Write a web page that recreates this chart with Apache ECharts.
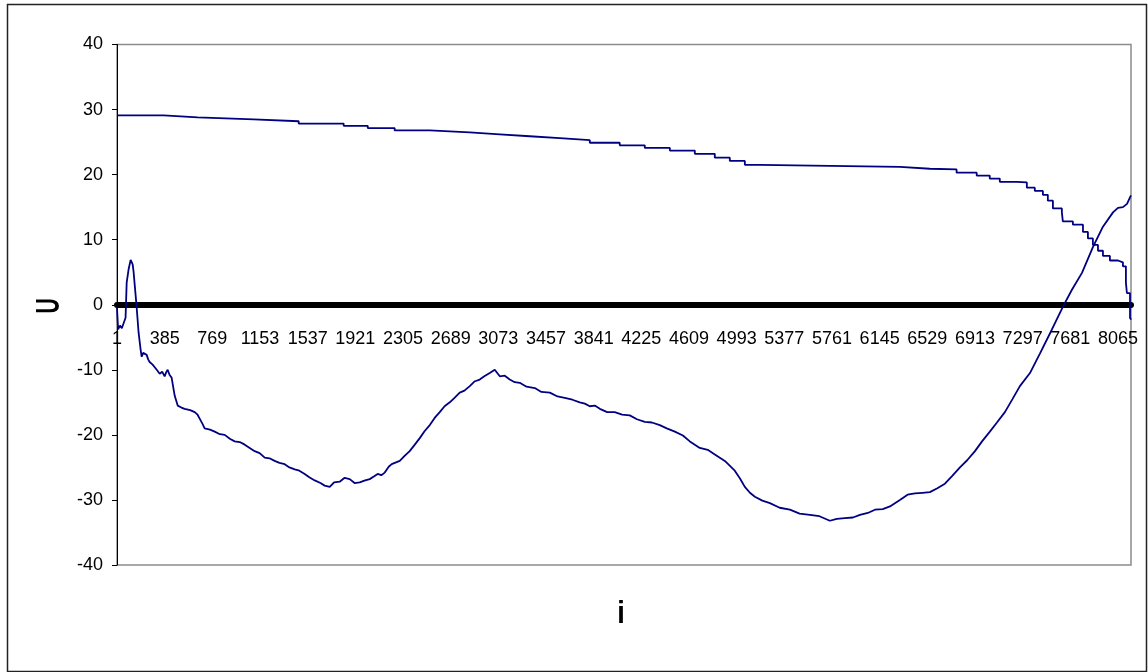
<!DOCTYPE html>
<html>
<head>
<meta charset="utf-8">
<title>U vs i</title>
<script src="https://cdn.jsdelivr.net/npm/echarts@6/dist/echarts.min.js"></script>
<style>
  html, body { margin: 0; padding: 0; background: #fff; }
  #chart { width: 1148px; height: 672px; }
</style>
</head>
<body>
<div id="chart"></div>
<script>
// Sample index i runs from 1 to 8170; axis labels every 384 samples.
const sampleCount = 8170;
const labelStep = 384;
const categories = Array.from({ length: sampleCount }, (_, k) => String(k + 1));

// Upper curve: quantised, step-wise decreasing (i, U)
const upperI = [1, 377, 651, 1102, 1465, 1827, 2021, 2238, 2521, 2843, 3085, 3326, 3568, 3810,
  4051, 4253, 4455, 4656, 4817, 4938, 5059, 5180, 6308, 6550, 6765, 6927, 7032, 7113, 7250,
  7331, 7395, 7460, 7500, 7541, 7613, 7621, 7702, 7783, 7823, 7863, 7904, 7944, 8000, 8065,
  8105, 8129, 8137, 8162, 8170];
const upperU = [29.1, 28.8, 28.5, 28.2, 27.85, 27.5, 27.15, 26.8, 26.5, 26.2, 25.9, 25.6, 25.3, 24.9,
  24.5, 24.1, 23.7, 23.2, 22.6, 22.1, 21.5, 21.2, 20.9, 20.8, 20.3, 19.85, 19.4, 18.9, 18.8,
  18.0, 17.5, 16.9, 16.0, 14.8, 14.2, 12.8, 12.3, 11.2, 10.2, 9.2, 8.3, 7.5, 6.8, 6.5,
  5.9, 3.4, 1.8, -2.0, -2.3];

// Lower curve: noisy wave (i, U)
const lowerI = [1, 10, 25, 40, 55, 70, 79, 95, 111, 119, 127, 135, 143, 159, 175, 192, 200, 212, 224, 240,
  252, 264, 276, 288, 305, 321, 345, 365, 385, 397, 409, 425, 441, 466, 490, 520, 546, 590, 627, 650, 667, 690, 707,
  750, 788, 830, 869, 910, 949, 990, 1030, 1070, 1110, 1150,
  1191, 1230, 1271, 1310, 1352, 1390, 1433, 1470, 1513, 1550, 1594, 1640, 1674, 1715, 1750, 1795, 1835, 1876, 1915, 1956, 2000, 2037, 2070, 2101, 2130, 2158, 2190, 2214,
  2279, 2320, 2359, 2400, 2440, 2480, 2521, 2560, 2601, 2640, 2682, 2720, 2762, 2800, 2843, 2880, 2923, 2960, 3004, 3044, 3085, 3125, 3165, 3205, 3246, 3300, 3367,
  3420, 3488, 3550, 3608, 3670, 3729, 3770, 3810, 3850, 3891, 3950, 4011, 4070, 4132, 4190, 4253, 4310, 4374, 4430, 4495, 4560, 4616, 4696, 4760, 4817, 4898, 4978,
  5020, 5059, 5100, 5140, 5200, 5261, 5340, 5422, 5500, 5583, 5660, 5744, 5800, 5865, 5930, 5986, 6050, 6107, 6170, 6228, 6308, 6370, 6429, 6490, 6550, 6610, 6671, 6730, 6792,
  6850, 6913, 6970, 7033, 7090, 7154, 7215, 7275, 7356, 7436, 7533, 7622, 7694, 7775, 7864, 7944, 8025, 8065, 8105,
  8138, 8162, 8170];
const lowerU = [-0.5, -3.8, -3.2, -3.6, -2.8, -2.0, 3.4, 5.5, 6.9, 7.0, 6.2, 5.0, 3.2, -0.3, -4.3, -7.0, -8.0, -7.4,
  -7.5, -7.7, -8.4, -8.8, -8.6, -9.2, -9.6, -10.0, -10.6, -10.3, -11.0, -10.4, -10.0, -10.8, -11.2, -14.0, -15.5, -15.8, -16.0, -16.2, -16.5, -16.9,
  -17.5, -18.3, -19.0, -19.2, -19.5, -19.9, -20.0, -20.6, -21.0, -21.1, -21.5, -22.0, -22.5, -22.8, -23.5, -23.6, -24.0, -24.3, -24.5, -25.0, -25.3, -25.5, -26.0, -26.5, -27.0,
  -27.4, -27.8, -28.0, -27.3, -27.2, -26.6, -26.8, -27.4, -27.3, -27.0, -26.8, -26.4, -26.0, -26.2, -25.8, -24.9, -24.5, -24.0, -23.2, -22.5, -21.5, -20.5, -19.4, -18.5,
  -17.4, -16.5, -15.6, -15.0, -14.3, -13.5, -13.2, -12.5, -11.8, -11.5, -11.0, -10.5, -10.0, -11.0, -10.9, -11.5, -11.9, -12.0, -12.6, -12.8,
  -13.4, -13.5, -14.1, -14.3, -14.6, -15.0, -15.2, -15.6, -15.5, -16.0, -16.5, -16.5, -16.9, -17.0, -17.6, -18.0, -18.1, -18.5, -19.0, -19.5, -20.1, -21.0, -22.0, -22.3, -23.0, -24.0, -25.5,
  -26.7, -28.0, -28.9, -29.5, -30.1, -30.5, -31.2, -31.5, -32.1, -32.3, -32.5, -33.2, -32.9, -32.8, -32.7, -32.3, -32.0, -31.5, -31.4, -31.0, -30.0, -29.2, -29.0, -28.9, -28.8, -28.2, -27.5, -26.3, -25.0,
  -23.9, -22.5, -21.0, -19.5, -18.1, -16.5, -14.5, -12.5, -10.5, -7.5, -3.8, -0.3, 2.3, 4.9, 8.9, 12.0, 14.2, 14.9, 15.0,
  15.5, 16.5, 16.8];

const yTicks = { min: -40, max: 40, step: 10 };

const toPairs = (xs, ys) => xs.map((x, k) => [x - 1, ys[k]]);

const sans = "'Liberation Sans', Arial, sans-serif";
const lineColor = '#000080';

// Plot box; the category axis sits on U = 0, halfway down the box.
const plotTop = 44.5, plotBottom = 107;
const plotHeight = 672 - plotTop - plotBottom;
const zeroOffset = -plotHeight * (0 - yTicks.min) / (yTicks.max - yTicks.min);

const chart = echarts.init(document.getElementById('chart'), null, { renderer: 'canvas' });
chart.setOption({
  animation: false,
  backgroundColor: '#ffffff',
  grid: {
    left: 117, right: 17, top: plotTop, bottom: plotBottom,
    outerBoundsMode: 'none',
    show: true, borderColor: '#8c8c8c', borderWidth: 1.5, backgroundColor: 'transparent'
  },
  graphic: [
    {
      type: 'rect', left: 5, top: 2, silent: true,
      shape: { width: 1139, height: 667 },
      style: { fill: 'none', stroke: '#222', lineWidth: 1.5 }
    },
    {
      // y-axis title, rotated to read bottom-to-top
      type: 'text', x: 49.5, y: 306, rotation: Math.PI / 2, scaleX: 0.62, silent: true,
      style: { text: 'U', font: 'bold 34px ' + sans, fill: '#000', align: 'center', verticalAlign: 'middle' }
    },
    {
      // x-axis title
      type: 'text', x: 621, y: 614, scaleX: 0.85, silent: true,
      style: { text: 'i', font: 'bold 32px ' + sans, fill: '#000', align: 'center', verticalAlign: 'middle' }
    }
  ],
  xAxis: {
    type: 'category',
    data: categories,
    boundaryGap: false,
    offset: zeroOffset,
    axisLine: { onZero: false, lineStyle: { color: '#000', width: 6 } },
    axisTick: { show: false },
    splitLine: { show: false },
    axisLabel: {
      interval: (idx) => idx % labelStep === 0,
      margin: 25, color: '#000', fontFamily: sans, fontSize: 18
    }
  },
  yAxis: {
    type: 'value',
    min: yTicks.min, max: yTicks.max, interval: yTicks.step,
    axisLine: { show: true, lineStyle: { color: '#000', width: 1 } },
    axisTick: { show: true, length: 5, lineStyle: { color: '#000' } },
    splitLine: { show: false },
    axisLabel: { margin: 14, color: '#000', fontFamily: sans, fontSize: 18 }
  },
  series: [
    {
      type: 'line', step: 'end', showSymbol: false, symbol: 'none',
      data: toPairs(upperI, upperU),
      lineStyle: { color: lineColor, width: 1.8 }
    },
    {
      type: 'line', showSymbol: false, symbol: 'none',
      data: toPairs(lowerI, lowerU),
      lineStyle: { color: lineColor, width: 1.8 }
    }
  ]
});
</script>
</body>
</html>
